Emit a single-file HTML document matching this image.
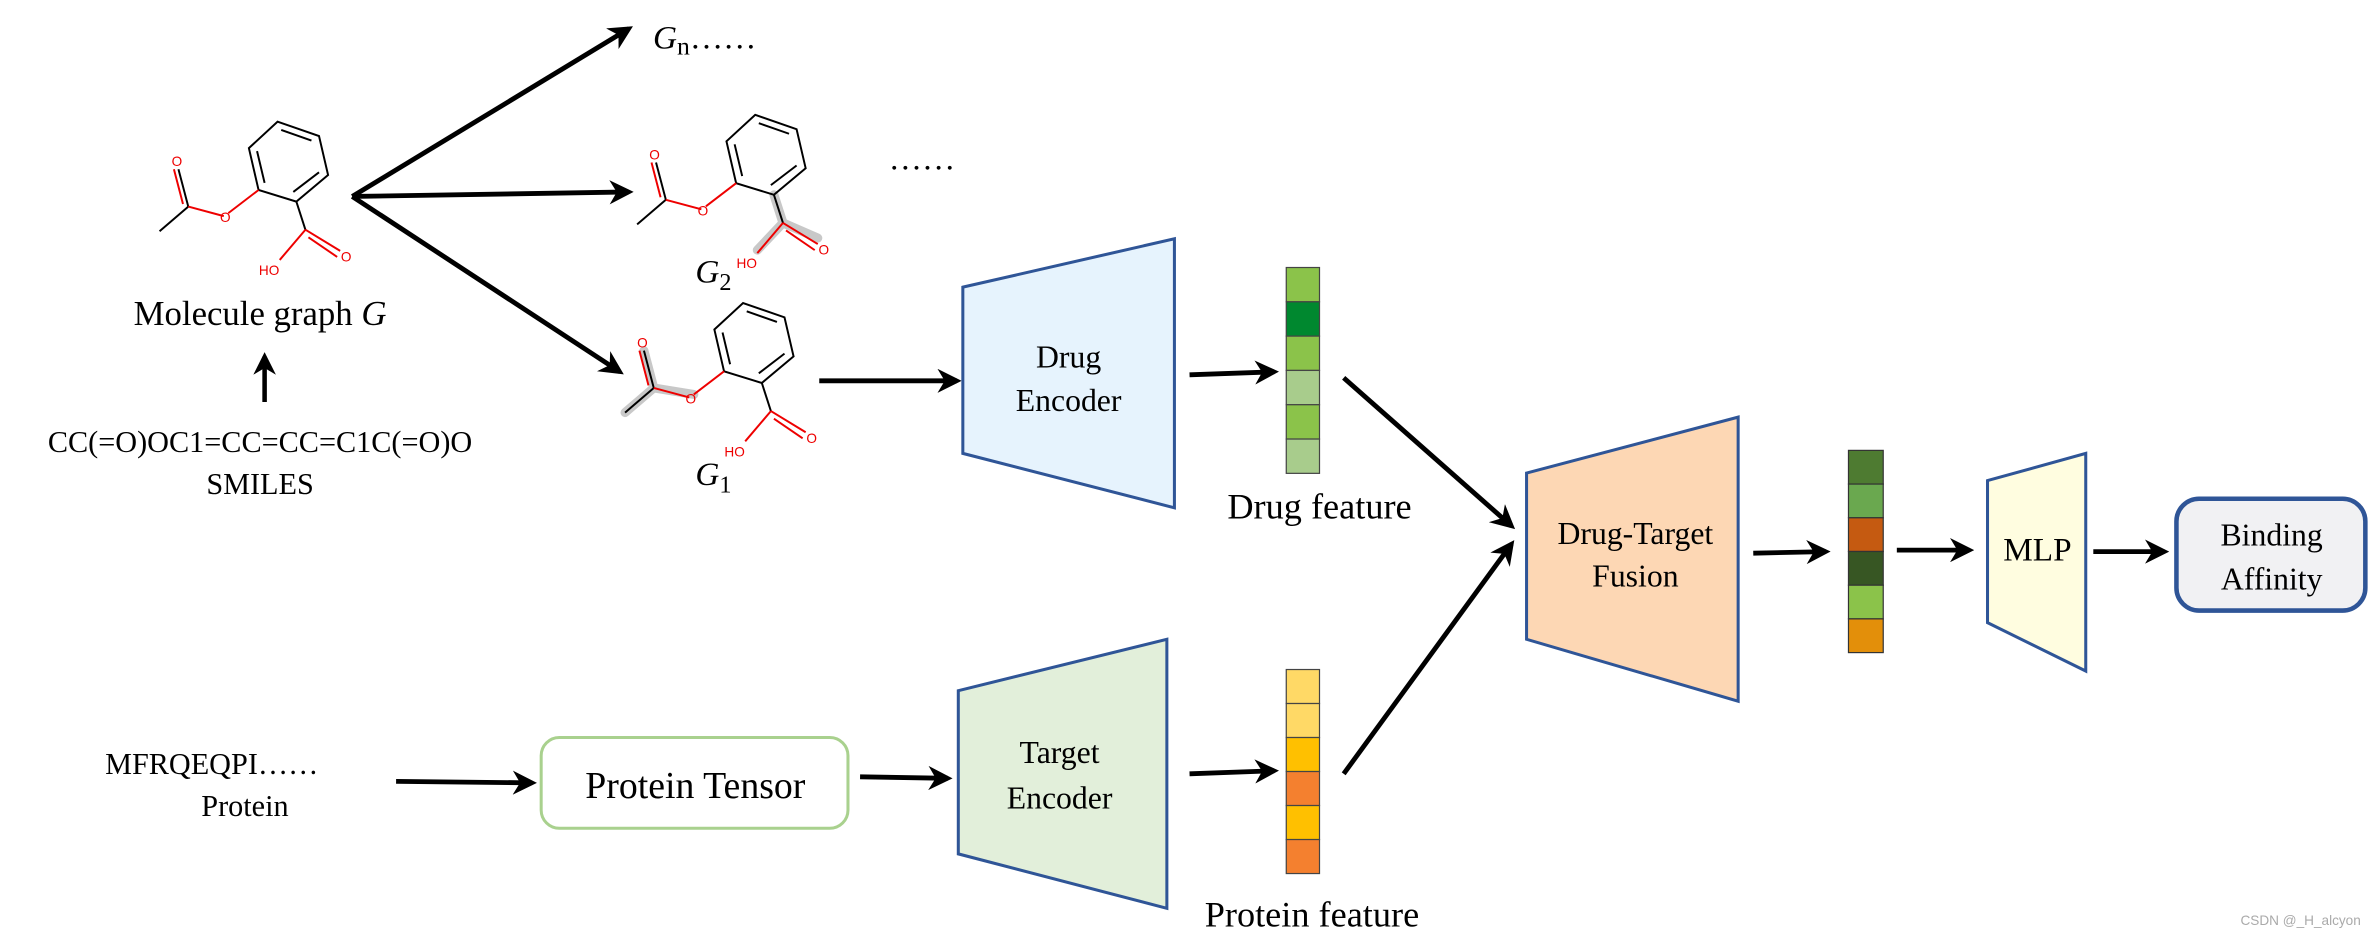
<!DOCTYPE html>
<html><head><meta charset="utf-8"><style>
html,body{margin:0;padding:0;background:#fff;}
svg{display:block;}
text{font-family:"Liberation Serif",serif;fill:#000;}
</style></head><body>
<svg width="2370" height="934" viewBox="0 0 1568 618" xmlns="http://www.w3.org/2000/svg">
<defs>
<marker id="ah" viewBox="0 0 10 10" refX="8" refY="5" markerWidth="5" markerHeight="5" orient="auto" markerUnits="strokeWidth">
<path d="M0,0 L10,5 L0,10 L3,5 z" fill="#000"/>
</marker>
<g id="mol">
<g fill="none" stroke="#000" stroke-width="1.3">
<polygon points="183.6,80.5 211,90 217,115.8 196,133.4 171,125.7 164.6,98"/>
<line x1="186" y1="86" x2="206" y2="93"/>
<line x1="211" y1="114" x2="194" y2="127"/>
<line x1="170" y1="100" x2="175" y2="121"/>
<line x1="196" y1="133.4" x2="202" y2="152"/>
<line x1="124.5" y1="136.7" x2="105.5" y2="153"/>
<line x1="124.5" y1="136.7" x2="118" y2="112"/>
</g>
<g fill="none" stroke="#e00" stroke-width="1.3">
<line x1="171" y1="125.7" x2="151" y2="141"/>
<line x1="148" y1="143" x2="124.5" y2="136.7"/>
<line x1="121" y1="135" x2="115" y2="112"/>
<line x1="202" y1="152" x2="225" y2="166"/>
<line x1="204" y1="157" x2="223" y2="170"/>
<line x1="202" y1="152" x2="185" y2="172"/>
</g>
<text x="149" y="147" font-size="9" text-anchor="middle" style="fill:#e00;font-family:'Liberation Sans',sans-serif">O</text>
<text x="117" y="110" font-size="9" text-anchor="middle" style="fill:#e00;font-family:'Liberation Sans',sans-serif">O</text>
<text x="229" y="173" font-size="9" text-anchor="middle" style="fill:#e00;font-family:'Liberation Sans',sans-serif">O</text>
<text x="178" y="182" font-size="9" text-anchor="middle" style="fill:#e00;font-family:'Liberation Sans',sans-serif">HO</text>
</g>
</defs>

<use href="#mol"/>
<text x="172" y="215" font-size="23" text-anchor="middle">Molecule graph <tspan font-style="italic">G</tspan></text>
<line x1="175" y1="266" x2="175" y2="236" stroke="#000" stroke-width="3" marker-end="url(#ah)"/>
<text x="172" y="299" font-size="20" text-anchor="middle">CC(=O)OC1=CC=CC=C1C(=O)O</text>
<text x="172" y="327" font-size="20" text-anchor="middle">SMILES</text>

<g stroke="#000" stroke-width="3.2" marker-end="url(#ah)">
<line x1="233" y1="130" x2="416" y2="19"/>
<line x1="233" y1="130" x2="416" y2="127"/>
<line x1="233" y1="130" x2="410" y2="246"/>
</g>
<text x="432" y="32" font-size="22"><tspan font-style="italic">G</tspan><tspan font-size="17" dy="4">n</tspan><tspan dy="-4">……</tspan></text>
<text x="588" y="112" font-size="22">……</text>

<g transform="translate(316,-4.5)">
<g stroke="#bbb" stroke-width="6" stroke-linecap="round" fill="none" opacity="0.8">
<line x1="196" y1="133.4" x2="202" y2="152"/><line x1="202" y1="152" x2="225" y2="162"/><line x1="202" y1="152" x2="185" y2="170"/>
</g>
<use href="#mol"/>
</g>
<text x="460" y="187" font-size="22" font-style="italic">G<tspan font-size="16" font-style="normal" dy="5">2</tspan></text>

<g transform="translate(308,120)">
<g stroke="#bbb" stroke-width="6" stroke-linecap="round" fill="none" opacity="0.8">
<line x1="151" y1="141" x2="124.5" y2="136.7"/><line x1="124.5" y1="136.7" x2="118" y2="112"/><line x1="124.5" y1="136.7" x2="105.5" y2="153"/>
</g>
<use href="#mol"/>
</g>
<text x="460" y="321" font-size="22" font-style="italic">G<tspan font-size="16" font-style="normal" dy="5">1</tspan></text>

<g stroke="#000" stroke-width="3.2" marker-end="url(#ah)">
<line x1="542" y1="252" x2="633" y2="252"/>
<line x1="787" y1="248" x2="843" y2="246"/>
<line x1="889" y1="250" x2="1000" y2="348"/>
<line x1="889" y1="512" x2="1000" y2="360"/>
<line x1="1160" y1="366" x2="1208" y2="365"/>
<line x1="1255" y1="364" x2="1303" y2="364"/>
<line x1="1385" y1="365" x2="1432" y2="365"/>
<line x1="262" y1="517" x2="352" y2="518"/>
<line x1="569" y1="514" x2="627" y2="515"/>
<line x1="787" y1="512" x2="843" y2="510"/>
</g>

<polygon points="637,190 777,158 777,336 637,300" fill="#e6f3fd" stroke="#2f5597" stroke-width="2"/>
<text x="707" y="243" font-size="21" text-anchor="middle">Drug</text>
<text x="707" y="272" font-size="21" text-anchor="middle">Encoder</text>

<g stroke="#444" stroke-width="0.8">
<rect x="851" y="177" width="22" height="22.7" fill="#8bc34a"/>
<rect x="851" y="199.7" width="22" height="22.7" fill="#00882f"/>
<rect x="851" y="222.4" width="22" height="22.7" fill="#8bc34a"/>
<rect x="851" y="245.1" width="22" height="22.7" fill="#a8cc8c"/>
<rect x="851" y="267.8" width="22" height="22.7" fill="#8bc34a"/>
<rect x="851" y="290.5" width="22" height="22.7" fill="#a8cc8c"/>
</g>
<text x="873" y="343" font-size="24" text-anchor="middle">Drug feature</text>

<polygon points="634,457 772,423 772,601 634,565" fill="#e2efda" stroke="#2f5597" stroke-width="2"/>
<text x="701" y="505" font-size="21" text-anchor="middle">Target</text>
<text x="701" y="535" font-size="21" text-anchor="middle">Encoder</text>

<g stroke="#444" stroke-width="0.8">
<rect x="851" y="443" width="22" height="22.5" fill="#ffd966"/>
<rect x="851" y="465.5" width="22" height="22.5" fill="#ffd966"/>
<rect x="851" y="488" width="22" height="22.5" fill="#ffc000"/>
<rect x="851" y="510.5" width="22" height="22.5" fill="#f4802f"/>
<rect x="851" y="533" width="22" height="22.5" fill="#ffc000"/>
<rect x="851" y="555.5" width="22" height="22.5" fill="#f4802f"/>
</g>
<text x="868" y="613" font-size="24" text-anchor="middle">Protein feature</text>

<polygon points="1010,313 1150,276 1150,464 1010,423" fill="#fdd7b4" stroke="#2f5597" stroke-width="2"/>
<text x="1082" y="360" font-size="21" text-anchor="middle">Drug-Target</text>
<text x="1082" y="388" font-size="21" text-anchor="middle">Fusion</text>

<g stroke="#333" stroke-width="0.8">
<rect x="1223" y="298" width="23" height="22.3" fill="#4e7b31"/>
<rect x="1223" y="320.3" width="23" height="22.3" fill="#6aa84f"/>
<rect x="1223" y="342.6" width="23" height="22.3" fill="#c55a11"/>
<rect x="1223" y="364.9" width="23" height="22.3" fill="#375623"/>
<rect x="1223" y="387.2" width="23" height="22.3" fill="#8bc34a"/>
<rect x="1223" y="409.5" width="23" height="22.3" fill="#e38f0a"/>
</g>

<polygon points="1315,318 1380,300 1380,444 1315,412" fill="#fffde0" stroke="#2f5597" stroke-width="2"/>
<text x="1348" y="371" font-size="22" text-anchor="middle">MLP</text>

<rect x="1440" y="330" width="125" height="74" rx="15" fill="#f1f1f3" stroke="#2f5597" stroke-width="3"/>
<text x="1503" y="361" font-size="21" text-anchor="middle">Binding</text>
<text x="1503" y="390" font-size="21" text-anchor="middle">Affinity</text>

<text x="140" y="512" font-size="20" text-anchor="middle">MFRQEQPI……</text>
<text x="162" y="540" font-size="20" text-anchor="middle">Protein</text>
<rect x="358" y="488" width="203" height="60" rx="12" fill="#fff" stroke="#a9d18e" stroke-width="2"/>
<text x="460" y="528" font-size="25" text-anchor="middle">Protein Tensor</text>

<text x="1562" y="612" font-size="9" text-anchor="end" style="fill:#aaa;font-family:'Liberation Sans',sans-serif">CSDN @_H_alcyon</text>
</svg>
</body></html>
